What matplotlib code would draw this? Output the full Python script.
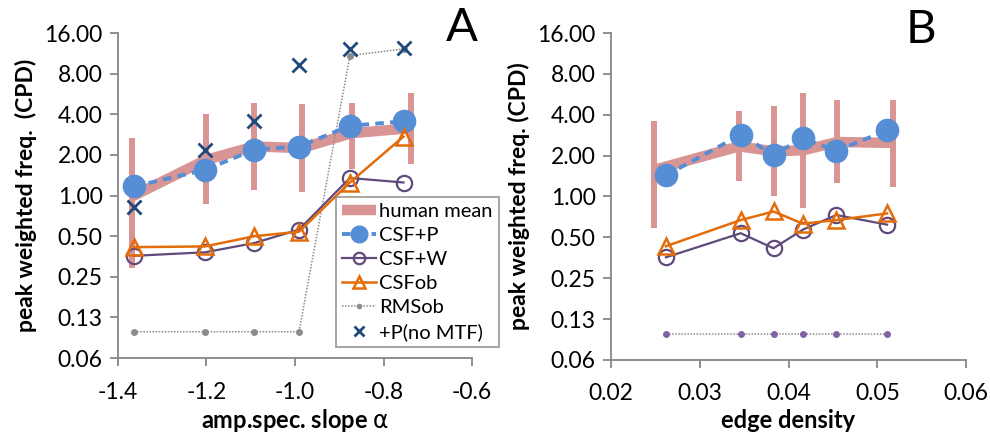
import numpy as np
import matplotlib.pyplot as plt
from matplotlib.ticker import FixedLocator, FixedFormatter, NullLocator

plt.rcParams['font.family'] = ['Lato', 'DejaVu Sans']

# --- panel A: amplitude spectrum slope ---
slope_human = [-1.369, -1.201, -1.092, -0.985, -0.872, -0.738]
human_a = [0.98, 1.84, 2.31, 2.25, 2.90, 3.16]
human_a_lo = [0.29, 0.87, 1.10, 1.07, 1.58, 1.72]
human_a_hi = [2.69, 4.03, 4.86, 4.78, 4.86, 5.74]

slope_model = [-1.363, -1.203, -1.092, -0.991, -0.876, -0.755]
csfp_a = [1.17, 1.55, 2.19, 2.31, 3.29, 3.55]
csfw_a = [0.358, 0.38, 0.445, 0.56, 1.35, 1.25]
csfob_a = [0.415, 0.42, 0.50, 0.54, 1.25, 2.74]
rmsob_a = [0.098, 0.098, 0.098, 0.098, 10.9, 12.2]
nomtf_a = [0.83, 2.16, 3.55, 9.3, 12.2, 12.3]

# --- panel B: edge density ---
edge_human = [0.02485, 0.03444, 0.03838, 0.04165, 0.04549, 0.0518]
human_b = [1.57, 2.34, 2.15, 2.19, 2.52, 2.48]
human_b_lo = [0.59, 1.29, 1.00, 0.82, 1.26, 1.17]
human_b_hi = [3.61, 4.28, 4.65, 5.78, 5.10, 5.17]

edge_model = [0.0262, 0.03462, 0.03831, 0.04162, 0.04538, 0.05109]
csfp_b = [1.43, 2.85, 2.03, 2.69, 2.17, 3.07]
csfw_b = [0.356, 0.536, 0.415, 0.57, 0.73, 0.62]
csfob_b = [0.43, 0.67, 0.775, 0.63, 0.67, 0.75]
rmsob_b = [0.097, 0.097, 0.097, 0.097, 0.097, 0.097]

yticks = [0.0625, 0.125, 0.25, 0.5, 1, 2, 4, 8, 16]
ytick_labels = ['0.06', '0.13', '0.25', '0.50', '1.00', '2.00', '4.00', '8.00', '16.00']

PINK = '#D99594'
BLUE = '#558ED5'
PURPLE = '#604A7B'
ORANGE = '#E46C0A'
GRAY = '#8C8C8C'
NAVY = '#1F497D'
AXIS = '#868686'


def draw_panel(ax, xh, hm, lo, hi, xm, csfp, csfw, csfob, rms, rms_color, ylabel):
    hm = np.array(hm)
    ax.vlines(xh, lo, hi, color=PINK, lw=4.3, zorder=1)
    ax.plot(xh, hm, color=PINK, lw=7.5, solid_capstyle='butt', zorder=1,
            label='human mean')
    ax.plot(xm, csfp, color=BLUE, lw=2.8, ls=(0, (2.2, 1.6)), marker='o',
            ms=16, mec=BLUE, mfc=BLUE, zorder=3, label='CSF+P')
    ax.plot(xm, csfw, color=PURPLE, lw=1.6, marker='o', ms=11, mfc='none',
            mec=PURPLE, mew=1.6, zorder=4, label='CSF+W')
    ax.plot(xm, csfob, color=ORANGE, lw=1.8, marker='^', ms=11, mfc='none',
            mec=ORANGE, mew=1.8, zorder=5, label='CSFob')
    ax.plot(xm, rms, color=GRAY, lw=1.1, ls=(0, (1, 1)), marker='o', ms=4,
            mfc=rms_color, mec=rms_color, zorder=2, label='RMSob')

    ax.set_yscale('log', base=2)
    ax.set_ylim(0.0625, 16)
    ax.yaxis.set_major_locator(FixedLocator(yticks))
    ax.yaxis.set_major_formatter(FixedFormatter(ytick_labels))
    ax.yaxis.set_minor_locator(NullLocator())
    for side in ('top', 'right'):
        ax.spines[side].set_visible(False)
    for side in ('left', 'bottom'):
        ax.spines[side].set_color(AXIS)
        ax.spines[side].set_linewidth(1.3)
    ax.tick_params(axis='both', which='major', color=AXIS, width=1.3,
                   length=6, labelsize=16.5, direction='out')
    ax.tick_params(axis='y', pad=5)
    ax.tick_params(axis='x', pad=11)
    ax.set_ylabel(ylabel, fontsize=16.5, fontweight='bold', labelpad=5)


fig = plt.figure(figsize=(9.9, 4.41), dpi=100)
ax_a = fig.add_axes([0.119, 0.188, 0.358, 0.737])
ax_b = fig.add_axes([0.617, 0.184, 0.359, 0.741])

draw_panel(ax_a, slope_human, human_a, human_a_lo, human_a_hi, slope_model,
           csfp_a, csfw_a, csfob_a, rmsob_a, GRAY, 'peak weighted freq.  (CPD)')
ax_a.plot(slope_model, nomtf_a, ls='none', marker='x', ms=10, mew=2,
          color=NAVY, zorder=6, label='+P(no MTF)')
ax_a.set_xlim(-1.4, -0.6)
ax_a.set_xticks([-1.4, -1.2, -1.0, -0.8, -0.6])
ax_a.set_xticklabels(['-1.4', '-1.2', '-1.0', '-0.8', '-0.6'])
ax_a.set_xlabel('amp.spec. slope $\\mathrm{\\alpha}$', fontsize=17,
                fontweight='bold', labelpad=3)
ax_a.text(0.972, 1.015, 'A', transform=ax_a.transAxes, fontsize=34,
          ha='center', va='center')
leg = ax_a.legend(loc='lower left', bbox_to_anchor=(0.616, 0.034),
                  borderaxespad=0, fontsize=14.5, frameon=True, fancybox=False,
                  edgecolor=AXIS, handlelength=1.7, handletextpad=0.15,
                  labelspacing=0.34, borderpad=0.3, markerscale=0.75)
leg.get_frame().set_linewidth(1.3)
leg.set_zorder(10)

draw_panel(ax_b, edge_human, human_b, human_b_lo, human_b_hi, edge_model,
           csfp_b, csfw_b, csfob_b, rmsob_b, '#8064A2', 'peak weighted freq. (CPD)')
ax_b.set_xlim(0.02, 0.06)
ax_b.set_xticks([0.02, 0.03, 0.04, 0.05, 0.06])
ax_b.set_xticklabels(['0.02', '0.03', '0.04', '0.05', '0.06'])
ax_b.set_xlabel('edge density', fontsize=17, fontweight='bold', labelpad=3)
ax_b.text(0.872, 1.01, 'B', transform=ax_b.transAxes, fontsize=34,
          ha='center', va='center')

fig.savefig('out.png', dpi=100)
